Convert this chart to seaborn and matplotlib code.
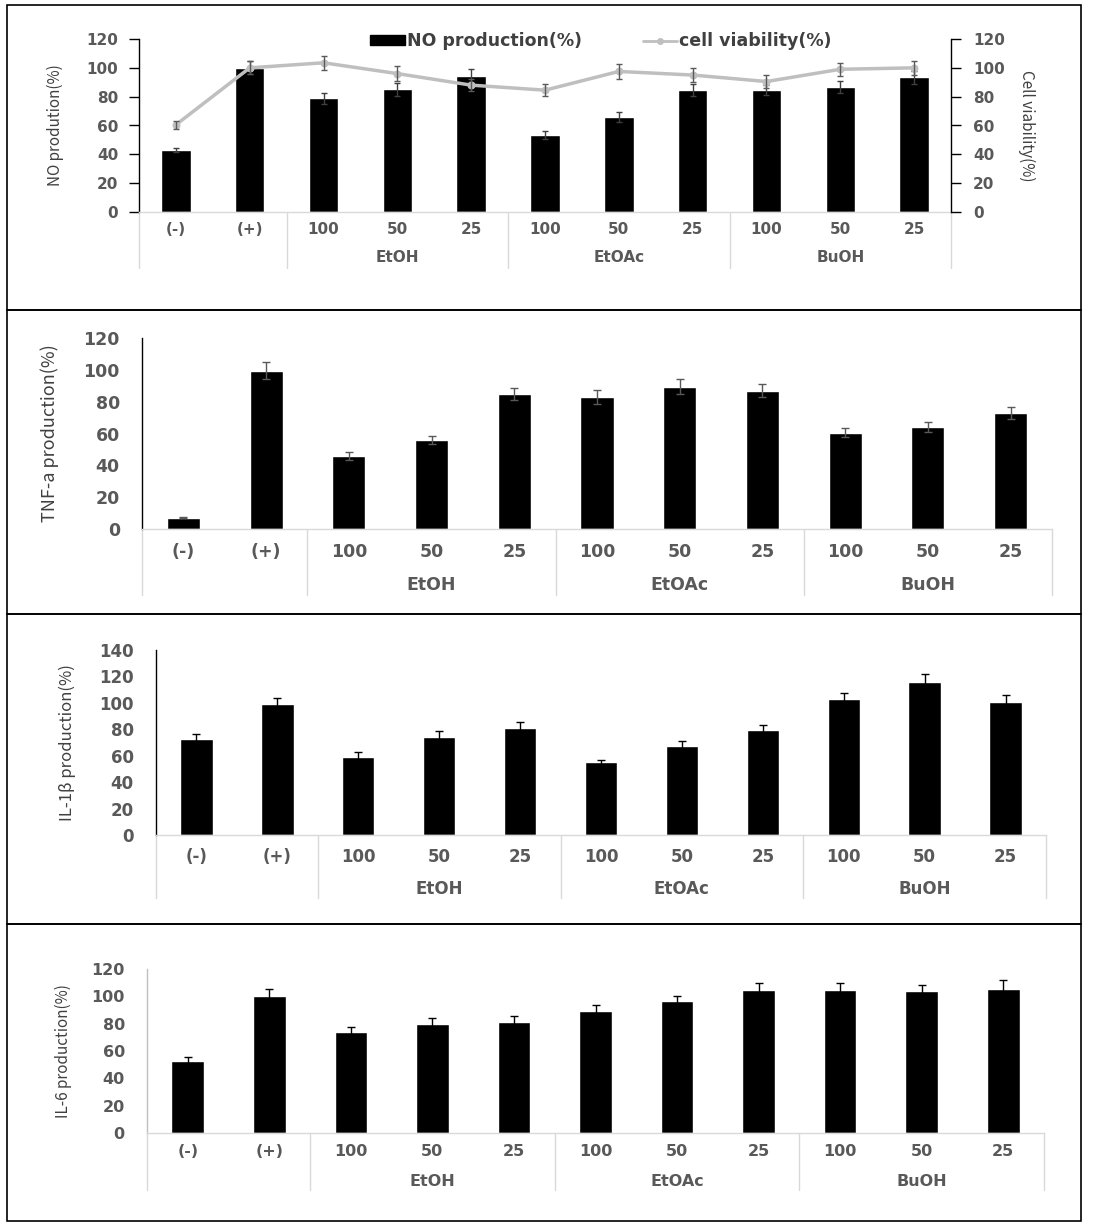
import numpy as np
import matplotlib
matplotlib.use("Agg")
import matplotlib.pyplot as plt
import matplotlib.transforms as mtransforms
from matplotlib.patches import Rectangle, Patch
from matplotlib.lines import Line2D
import seaborn as sns

# ---------------- data ----------------
conc_labels = ["(-)", "(+)", "100", "50", "25", "100", "50", "25", "100", "50", "25"]
group_labels = ["", "", "EtOH", "EtOH", "EtOH", "EtOAc", "EtOAc", "EtOAc", "BuOH", "BuOH", "BuOH"]

no_prod = [43, 100, 79, 85, 94.5, 53.5, 66, 84.5, 84.5, 86.5, 93.5]
no_err = [1.5, 4.5, 3.8, 4.5, 4.5, 2.7, 3.4, 4.0, 3.6, 4.2, 4.5]
viability = [60.5, 100, 103.5, 96, 88, 84.5, 97.5, 95, 90.5, 99, 100]
viability_err = [2.8, 4.5, 5.0, 5.0, 4.0, 4.0, 5.0, 5.0, 4.5, 4.5, 5.0]
tnf = [7, 99.5, 46, 56, 85, 83, 89.5, 87, 60.5, 64, 73]
tnf_err = [0.4, 5.2, 2.6, 2.7, 3.8, 4.2, 4.5, 4.0, 3.0, 3.2, 3.8]
il1b = [73, 99.5, 58.7, 74.5, 81.3, 55, 67.5, 79.6, 103.2, 115.8, 101]
il1b_err = [3.8, 4.5, 3.8, 4.3, 4.3, 2.0, 3.8, 4.0, 4.5, 6.3, 5.3]
il6 = [52.7, 100, 73.8, 79.7, 81.1, 89.1, 96.4, 104.4, 104.4, 103.7, 105.2]
il6_err = [3.2, 5.1, 4.1, 4.1, 4.4, 4.4, 4.1, 5.6, 5.6, 4.9, 6.6]

sample_ids = [f"{g} {c}".strip() for g, c in zip(group_labels, conc_labels)]

# ---------------- style ----------------
sns.set_style("white")
plt.rcParams["font.family"] = ["Noto Sans CJK KR", "DejaVu Sans"]
TICKFONT = "DejaVu Sans"

W, H = 1104, 1228
fig = plt.figure(figsize=(W / 100, H / 100), dpi=100)

TXT = "#595959"
LAB = "#404040"
GRID = "#d9d9d9"


def add_axes_px(left, right, top, bottom):
    return fig.add_axes([left / W, 1 - bottom / H, (right - left) / W, (bottom - top) / H])


def style_yticks(ax, fs, color, pad):
    ax.tick_params(axis="y", direction="out", length=7, width=1, color=color,
                   labelsize=fs, labelcolor=TXT, pad=pad, labelfontfamily=TICKFONT)
    for t in ax.get_yticklabels():
        t.set_fontweight("bold")


def draw_panel(ax, values, errs, ecolor, ymax, ystep, ylabel, fs_tick, fs_label,
               label_x, cat_off, grp_off, sep_off, spine_color, capsize, tick_pad):
    n = len(values)
    sns.barplot(x=sample_ids, y=values, order=sample_ids, color="black",
                saturation=1, width=0.4, errorbar=None, ax=ax, zorder=2)
    ax.errorbar(np.arange(n), values, yerr=errs, fmt="none", ecolor=ecolor,
                elinewidth=1, capsize=capsize, capthick=1, zorder=3)
    ax.set_xlim(-0.5, n - 0.5)
    ax.set_ylim(0, ymax)
    ax.set_yticks(np.arange(0, ymax + 1, ystep))
    style_yticks(ax, fs_tick, spine_color, tick_pad)
    ax.set_xticks([])
    ax.set_xlabel("")
    ax.set_ylabel(ylabel, fontsize=fs_label, color=LAB)
    ax.yaxis.set_label_coords(label_x, 0.5)
    for s in ["top", "right"]:
        ax.spines[s].set_visible(False)
    ax.spines["left"].set_color(spine_color)
    ax.spines["left"].set_linewidth(1)
    ax.spines["bottom"].set_color(GRID)
    ax.spines["bottom"].set_linewidth(1)

    # multi-level category axis
    tx = ax.get_xaxis_transform()
    cat_t = mtransforms.offset_copy(tx, fig=fig, x=0, y=-cat_off, units="dots")
    grp_t = mtransforms.offset_copy(tx, fig=fig, x=0, y=-grp_off, units="dots")
    for i, lab in enumerate(conc_labels):
        ax.text(i, 0, lab, transform=cat_t, ha="center", va="center",
                fontsize=fs_tick, fontweight="bold", color=TXT, family=TICKFONT)
    groups = []
    for g in group_labels:
        if g and g not in groups:
            groups.append(g)
    for g in groups:
        idx = [i for i, gg in enumerate(group_labels) if gg == g]
        ax.text(np.mean(idx), 0, g, transform=grp_t, ha="center", va="center",
                fontsize=fs_tick, fontweight="bold", color=TXT, family=TICKFONT)
    bounds = [-0.5] + [i - 0.5 for i in range(1, n) if group_labels[i] != group_labels[i - 1]] + [n - 0.5]
    h_px = ax.get_position().height * H
    for b in bounds:
        ax.plot([b, b], [0, -sep_off / h_px], transform=tx, clip_on=False,
                color=GRID, lw=1, zorder=1)


# ---------------- panel 1 : NO production + viability ----------------
ax1 = add_axes_px(139, 951, 39, 212)
draw_panel(ax1, no_prod, no_err, "#404040", 120, 20, "NO prodution(%)", 11, 11,
           -0.092, 18, 46, 56, "black", 2.5, 8)
ax1b = ax1.twinx()
sns.lineplot(x=np.arange(len(viability)), y=viability, ax=ax1b, color="#bfbfbf",
             lw=2.5, marker="o", markersize=5, markeredgecolor="#bfbfbf", zorder=4)
ax1b.errorbar(np.arange(len(viability)), viability, yerr=viability_err, fmt="none",
              ecolor="#595959", elinewidth=1, capsize=2.5, capthick=1, zorder=5)
ax1b.set_ylim(0, 120)
ax1b.set_yticks(np.arange(0, 121, 20))
style_yticks(ax1b, 11, "black", 9)
for s in ["top", "left", "bottom"]:
    ax1b.spines[s].set_visible(False)
ax1b.spines["right"].set_color("black")
ax1b.spines["right"].set_linewidth(1)
ax1b.set_ylabel("Cell viability(%)", fontsize=11, color=LAB, rotation=270, va="bottom")
ax1b.yaxis.set_label_coords(1.082, 0.5)
ax1b.set_xlim(-0.5, len(viability) - 0.5)

handles = [Patch(facecolor="black", edgecolor="black", label="NO production(%)"),
           Line2D([], [], color="#bfbfbf", lw=2, marker="o", markersize=4,
                  label="cell viability(%)")]
ax1b.legend(handles=handles, loc="center", bbox_to_anchor=(0.569, 0.988), ncol=2,
            frameon=False, prop=dict(weight="bold", size=12.5, family=TICKFONT),
            labelcolor=LAB, handlelength=2.0, handleheight=0.5, handletextpad=0.1,
            columnspacing=3.5, borderpad=0)

# ---------------- panel 2 : TNF-a ----------------
ax2 = add_axes_px(142, 1052, 338, 529)
draw_panel(ax2, tnf, tnf_err, "#595959", 120, 20, "TNF-a production(%)", 12.5, 13,
           -0.091, 23, 56, 66, "black", 3, 9)

# ---------------- panel 3 : IL-1b ----------------
ax3 = add_axes_px(156, 1046, 650, 835)
draw_panel(ax3, il1b, il1b_err, "black", 140, 20, "IL-1β production(%)", 12, 12,
           -0.090, 22, 54, 63, "black", 3, 9)

# ---------------- panel 4 : IL-6 ----------------
ax4 = add_axes_px(147, 1044, 969, 1133)
draw_panel(ax4, il6, il6_err, "black", 120, 20, "IL-6 production(%)", 11.5, 11,
           -0.084, 19, 48, 57, "#bfbfbf", 3, 9)

# ---------------- panel frames ----------------
frames = [(7, 5, 1081, 310), (7, 310, 1081, 614), (7, 614, 1081, 924), (7, 924, 1081, 1221)]
for x0, y0, x1, y1 in frames:
    fig.add_artist(Rectangle((x0 / W, 1 - y1 / H), (x1 - x0) / W, (y1 - y0) / H,
                             transform=fig.transFigure, fill=False,
                             edgecolor="black", lw=1.2))

fig.savefig("out.png", dpi=100)
